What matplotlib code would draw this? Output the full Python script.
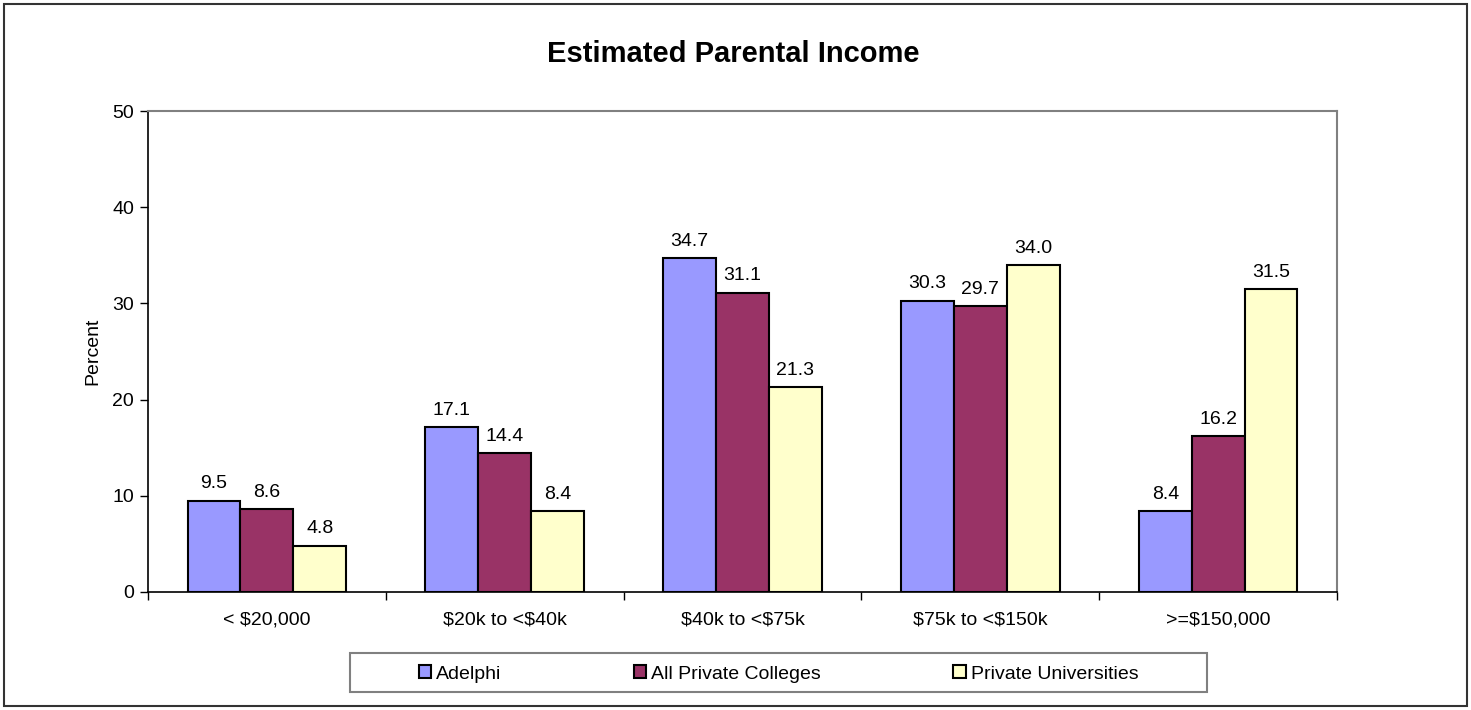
import matplotlib
matplotlib.use("Agg")
import matplotlib.pyplot as plt
from matplotlib.patches import Rectangle, Patch
import numpy as np

plt.rcParams['font.family'] = ['Liberation Sans', 'DejaVu Sans']
plt.rcParams['text.parse_math'] = False

categories = ["< $20,000", "$20k to <$40k", "$40k to <$75k", "$75k to <$150k", ">=$150,000"]
series_names = ["Adelphi", "All Private Colleges", "Private Universities"]
adelphi = [9.5, 17.1, 34.7, 30.3, 8.4]
all_private = [8.6, 14.4, 31.1, 29.7, 16.2]
private_univ = [4.8, 8.4, 21.3, 34.0, 31.5]
colors = ["#9999FF", "#993366", "#FFFFCC"]
yticks = [0, 10, 20, 30, 40, 50]

FS = 14
W, H = 1471, 710
fig = plt.figure(figsize=(W / 100, H / 100), dpi=100)
ax = fig.add_axes([148 / W, 1 - 592 / H, (1337 - 148) / W, (592 - 111) / H])

x = np.arange(len(categories))
bw = 1 / 4.5
for i, (vals, c, name) in enumerate(zip([adelphi, all_private, private_univ], colors, series_names)):
    pos = x + (i - 1) * bw
    ax.bar(pos, vals, width=bw, color=c, edgecolor="black", linewidth=1.5, label=name, zorder=3)
    for p, v in zip(pos, vals):
        ax.annotate(f"{v:.1f}", (p, v), xytext=(0, 6), textcoords="offset points",
                    ha="center", va="bottom", fontsize=FS)

ax.set_xlim(-0.5, len(categories) - 0.5)
ax.set_ylim(0, 50)
ax.set_yticks(yticks)
ax.set_yticklabels([str(t) for t in yticks], fontsize=FS)
ax.set_xticks(np.arange(len(categories) + 1) - 0.5)
ax.set_xticklabels([])
ax.set_xticks(x, minor=True)
ax.set_xticklabels(categories, minor=True, fontsize=FS)
ax.tick_params(axis="x", which="minor", length=0, pad=14)
ax.tick_params(axis="x", which="major", length=6, direction="out", width=1)
ax.tick_params(axis="y", length=6, direction="out", width=1, pad=4)
for s in ["top", "right"]:
    ax.spines[s].set_color("#808080")
    ax.spines[s].set_linewidth(1.5)
for s in ["left", "bottom"]:
    ax.spines[s].set_color("black")
    ax.spines[s].set_linewidth(1.2)

ax.set_ylabel("Percent", fontsize=FS, labelpad=8)
fig.text(733 / W, 1 - 54 / H, "Estimated Parental Income", ha="center", va="center",
         fontsize=21, fontweight="bold")

# legend frame
fig.patches.append(Rectangle((350 / W, 1 - 692 / H), (1207 - 350) / W, 39 / H,
                             transform=fig.transFigure, facecolor="white",
                             edgecolor="#808080", linewidth=1.5, zorder=1))
handles = [Patch(facecolor=c, edgecolor="black", linewidth=1.5) for c in colors]
leg = fig.legend(handles, series_names, ncol=3, loc="center",
                 bbox_to_anchor=((350 + 1207) / 2 / W, 1 - 674 / H),
                 fontsize=FS, frameon=False,
                 handlelength=0.65, handleheight=0.65, handletextpad=0.25,
                 columnspacing=6.8, borderaxespad=0, borderpad=0)

fig.patches.append(Rectangle((4 / W, 4 / H), 1 - 8 / W, 1 - 8 / H, transform=fig.transFigure,
                             fill=False, edgecolor="#333333", linewidth=1.5))

fig.savefig("out.png", dpi=100)
